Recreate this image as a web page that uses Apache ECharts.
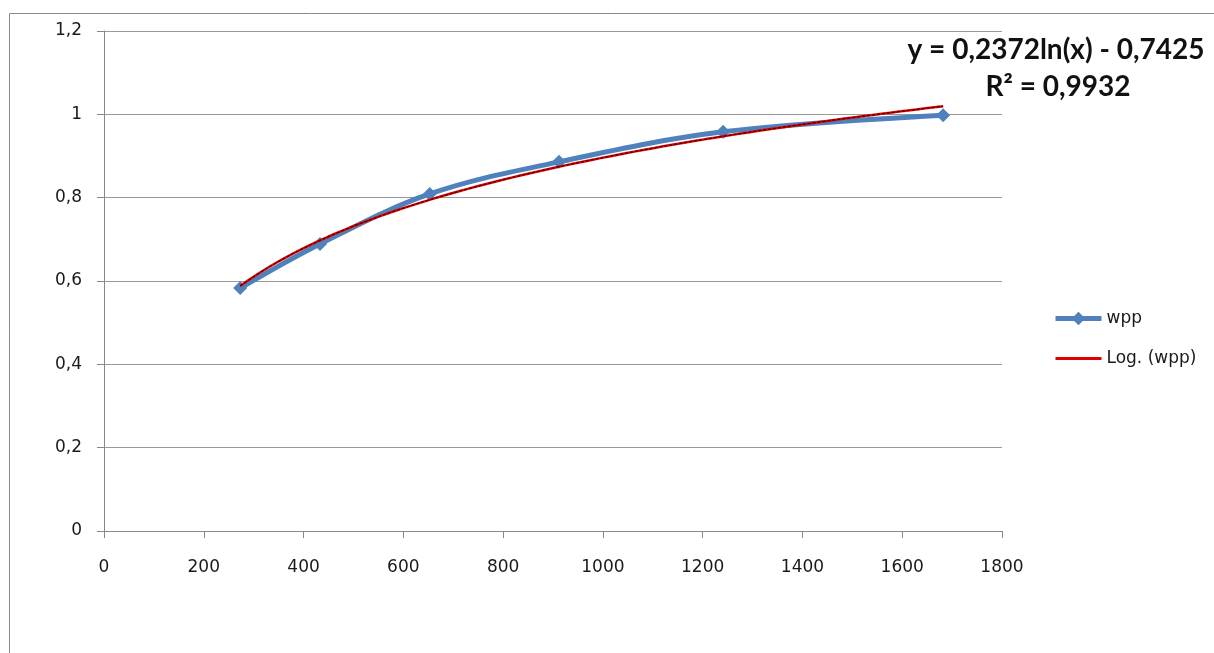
<!DOCTYPE html>
<html>
<head>
<meta charset="utf-8">
<script src="https://cdn.jsdelivr.net/npm/echarts@6/dist/echarts.min.js"></script>
<style>html,body{margin:0;padding:0;background:#fff;}#c{width:1214px;height:653px;}</style>
</head>
<body>
<div id="c"></div>
<script>
// Data
const xValues = [273, 433, 653, 912, 1241, 1682];
const wppValues = [0.583, 0.689, 0.809, 0.886, 0.958, 0.998];
const xTicks = [0, 200, 400, 600, 800, 1000, 1200, 1400, 1600, 1800];
const yTicks = [0, 0.2, 0.4, 0.6, 0.8, 1, 1.2];
// Logarithmic trendline coefficients shown on the chart
const trendA = 0.2372;
const trendB = -0.7425;
const trendR2 = 0.9932;
const seriesName = 'wpp';
const trendName = 'Log. (wpp)';

const fmt = v => String(v).replace('.', ',');

const wppData = xValues.map((x, i) => [x, wppValues[i]]);
const trendData = [];
const x0 = xValues[0], x1 = xValues[xValues.length - 1];
for (let k = 0; k <= 80; k++) {
  const x = x0 + (x1 - x0) * k / 80;
  trendData.push([x, trendA * Math.log(x) + trendB]);
}

const chart = echarts.init(document.getElementById('c'), null, {renderer: 'canvas'});
const labelFont = {fontFamily: 'DejaVu Sans, sans-serif', fontSize: 17, color: '#1a1a1a'};
chart.setOption({
  animation: false,
  backgroundColor: '#fff',
  grid: {left: 104, right: 212, top: 31, bottom: 122, containLabel: false},
  xAxis: {
    type: 'value', min: xTicks[0], max: xTicks[xTicks.length - 1], interval: xTicks[1] - xTicks[0],
    axisLine: {show: true, lineStyle: {color: '#888', width: 1}},
    axisTick: {show: true, length: 7, inside: false, lineStyle: {color: '#888'}},
    axisLabel: Object.assign({margin: 28, formatter: v => fmt(v)}, labelFont),
    splitLine: {show: false}
  },
  yAxis: {
    type: 'value', min: yTicks[0], max: yTicks[yTicks.length - 1], interval: 0.2,
    axisLine: {show: true, lineStyle: {color: '#888', width: 1}},
    axisTick: {show: true, length: 7, inside: false, lineStyle: {color: '#888'}},
    axisLabel: Object.assign({margin: 22, formatter: v => fmt(+v.toFixed(1))}, labelFont),
    splitLine: {show: true, lineStyle: {color: '#999', width: 1}}
  },
  legend: {
    orient: 'vertical', left: 1048, top: 305, itemWidth: 46, itemHeight: 17, itemGap: 23,
    textStyle: labelFont,
    data: [
      {name: seriesName, lineStyle: {width: 5}},
      {name: trendName, icon: 'path://M0,0L46,0L46,3L0,3Z'}
    ]
  },
  series: [
    {
      name: seriesName, type: 'line', data: wppData, smooth: 0.35,
      symbol: 'diamond', symbolSize: 14,
      lineStyle: {color: '#4F81BD', width: 5},
      itemStyle: {color: '#4F81BD'}, z: 2
    },
    {
      name: trendName, type: 'line', data: trendData, smooth: false,
      symbol: 'none', lineStyle: {color: '#E00000', width: 2.5},
      itemStyle: {color: '#E00000'}, z: 3
    },
    {
      name: 'trendCore', type: 'line', data: trendData, smooth: false,
      symbol: 'none', lineStyle: {color: '#1a0000', width: 1, type: [3, 2]},
      z: 4, silent: true
    }
  ],
  graphic: [
    {type: 'line', shape: {x1: 9.5, y1: 13.5, x2: 1214, y2: 13.5}, style: {stroke: '#8a8a8a', lineWidth: 1}},
    {type: 'line', shape: {x1: 9.5, y1: 13.5, x2: 9.5, y2: 653}, style: {stroke: '#8a8a8a', lineWidth: 1}},
    {type: 'text', x: 1056, y: 50, style: {
      text: 'y = ' + fmt(trendA) + 'ln(x) - ' + fmt(Math.abs(trendB)),
      textAlign: 'center', textVerticalAlign: 'middle',
      fontFamily: 'Lato', fontWeight: 'bold', fontSize: 28, fill: '#111'}},
    {type: 'text', x: 1058, y: 87, style: {
      text: 'R² = ' + fmt(trendR2),
      textAlign: 'center', textVerticalAlign: 'middle',
      fontFamily: 'Lato', fontWeight: 'bold', fontSize: 28, fill: '#111'}}
  ]
});
</script>
</body>
</html>
